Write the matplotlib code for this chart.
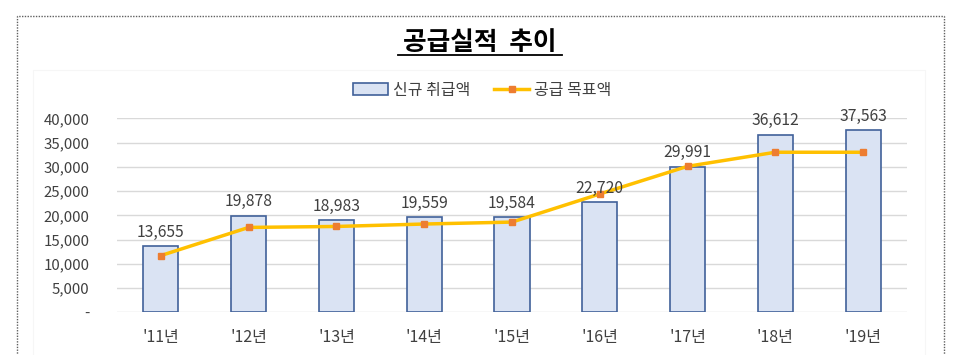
import matplotlib.pyplot as plt
import matplotlib.patches as patches
from matplotlib.lines import Line2D
from matplotlib.ticker import FuncFormatter

plt.rcParams['font.family'] = ['Noto Sans CJK KR', 'DejaVu Sans']
plt.rcParams['font.weight'] = 'medium'

#===============================================================
#=               data                                          =
#===============================================================
years = ["'11년", "'12년", "'13년", "'14년", "'15년", "'16년", "'17년", "'18년", "'19년"]
new_loans = [13655, 19878, 18983, 19559, 19584, 22720, 29991, 36612, 37563]
target = [11700, 17500, 17700, 18200, 18600, 24400, 30100, 33000, 33000]
yticks = [0, 5000, 10000, 15000, 20000, 25000, 30000, 35000, 40000]

#===============================================================
#=               plot                                          =
#===============================================================
txt = '#404040'
fig = plt.figure(figsize=(9.65, 3.55), dpi=100)
ax = fig.add_axes([117/965, 1-312.3/355, 790/965, 194/355])

x = list(range(len(years)))
bars = ax.bar(x, new_loans, width=0.4, color='#DAE3F3', edgecolor='#41619A',
              linewidth=1.2, zorder=2, label='신규 취급액')
ax.plot(x, target, color='#FFC000', linewidth=2.5, marker='s', markersize=5,
        markerfacecolor='#ED7D31', markeredgecolor='#ED7D31', zorder=3, label='공급 목표액')

for xi, v in zip(x, new_loans):
    ax.annotate(f'{v:,}', (xi, v), xytext=(0, 4), textcoords='offset points',
                ha='center', va='bottom', fontsize=11.3, color=txt)

ax.set_xlim(-0.5, len(years) - 0.5)
ax.set_ylim(0, 40000)
ax.set_yticks(yticks)
ax.yaxis.set_major_formatter(FuncFormatter(lambda v, p: '-' if v == 0 else f'{int(v):,}'))
ax.set_xticks(x)
ax.set_xticklabels(years)
ax.tick_params(axis='y', length=0, pad=20, labelsize=10.8, labelcolor=txt)
ax.tick_params(axis='x', length=0, pad=12, labelsize=11.5, labelcolor=txt)
ax.grid(axis='y', color='#D9D9D9', linewidth=1, zorder=0)
for s in ax.spines.values():
    s.set_visible(False)

# title with underline
fig.text(480/965, 1-42/355, '공급실적  추이', ha='center', va='center',
         fontsize=18.5, fontweight='bold', color='black')
fig.add_artist(Line2D([398/965, 562/965], [1-54.5/355, 1-54.5/355], color='black', linewidth=1.3))

# legend
handles = [patches.Patch(facecolor='#DAE3F3', edgecolor='#41619A', linewidth=1.2),
           Line2D([0], [0], color='#FFC000', linewidth=2.5, marker='s', markersize=5,
                  markerfacecolor='#ED7D31', markeredgecolor='#ED7D31')]
fig.legend(handles, ['신규 취급액', '공급 목표액'], loc='center', bbox_to_anchor=(482/965, 1-90/355),
           ncol=2, frameon=False, fontsize=11.5, handlelength=2.2, handletextpad=0.3,
           columnspacing=1.5, labelcolor=txt)

# dotted outer frame and faint chart frame
fig.add_artist(patches.Rectangle((17/965, -0.05), (944-17)/965, 1.05 - 16/355, fill=False,
                                 edgecolor='#606060', linewidth=1, linestyle=(0, (1, 1))))
fig.add_artist(patches.Rectangle((33/965, -0.05), (925-33)/965, 1.05 - 70/355, fill=False,
                                 edgecolor='#F6F6F6', linewidth=0.8))

plt.savefig('out.png', dpi=100)
